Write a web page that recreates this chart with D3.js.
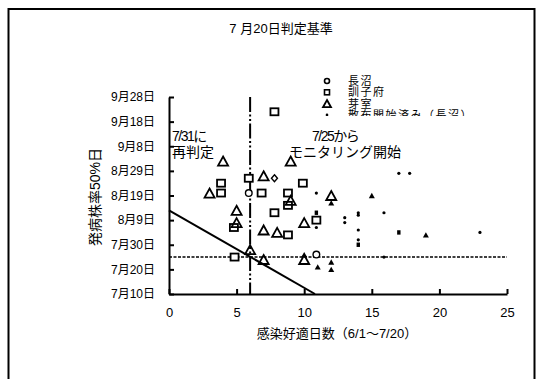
<!DOCTYPE html>
<html><head><meta charset="utf-8">
<script src="https://cdn.jsdelivr.net/npm/d3@7"></script>
<style>
html,body{margin:0;padding:0;background:#fff;}
svg{display:block;}
text{font-family:"Liberation Sans","Noto Sans CJK JP",sans-serif;fill:#000;}
</style></head>
<body>
<script>
// ---- data ----
const title = "7 月20日判定基準";
const xLabel = "感染好適日数（6/1～7/20）";
const yLabel = "発病株率50%日";
const xTicks = [0, 5, 10, 15, 20, 25];
const yTicks = ["7/10","7/20","7/30","8/9","8/19","8/29","9/8","9/18","9/28"];
const seriesNames = ["長沼","訓子府","芽室","散布開始済み（長沼）"];

const naganumaX = [5.9, 10.9];
const naganumaY = ["8/20","7/26"];
const naganumaDiamondX = [7.8];
const naganumaDiamondY = ["8/26"];
const kunneppuX = [7.8, 3.85, 3.85, 5.9, 6.85, 8.8, 9.9, 7.8, 8.8, 8.8, 4.85, 10.9, 4.8];
const kunneppuY = ["9/22","8/24","8/20","8/26","8/20","8/20","8/24","8/12","8/15","8/3","7/25","8/9","8/6"];
const memuroX = [4, 9, 7, 3, 12, 9, 5, 5, 10, 7, 8, 6, 7, 10];
const memuroY = ["9/2","9/2","8/27","8/20","8/19","8/17","8/13","8/8","8/8","8/5","8/4","7/28","7/24","7/24"];
const sprayNaganumaX = [10.9, 10.9, 13, 13, 14, 14, 14, 14, 15.9, 15.9, 17, 17.8, 23];
const sprayNaganumaY = ["8/20","8/6","8/10","8/8","8/12","8/11","8/5","8/1","8/12","7/25","8/28","8/28","8/4"];
const sprayKunneppuX = [17, 14, 10.9];
const sprayKunneppuY = ["8/4","7/30","8/12"];
const sprayMemuroX = [12, 15, 19, 12, 12, 11, 10];
const sprayMemuroY = ["8/16","8/19","8/3","7/23","7/20","7/21","7/26"];

const criterionX = 6;          // vertical dash-dot line
const monitorDate = "7/25";    // horizontal dashed line
const lineX = [0, 10.8];       // diagonal criterion line
const lineY = ["8/13","7/10"];
const notes = [["7/31に","再判定"],["7/25から","モニタリング開始"]];

// ---- drawing ----
const W = 537, H = 379;
const parse = d3.timeParse("%m/%d");
const svg = d3.select("body").append("svg").attr("width", W).attr("height", H);

svg.append("rect").attr("x",8.5).attr("y",9).attr("width",526).attr("height",420)
  .attr("fill","none").attr("stroke","#000").attr("stroke-width",2);

const x = d3.scaleLinear().domain([0,25]).range([169,507]);
const y = d3.scaleTime().domain([parse("7/10"), parse("9/28")]).range([294,97]);

svg.append("text").attr("x",281).attr("y",33).attr("text-anchor","middle")
  .attr("font-size",13).text(title);

// reference lines
svg.append("line").attr("x1",x(0)).attr("x2",x(25)).attr("y1",y(parse(monitorDate))).attr("y2",y(parse(monitorDate)))
  .attr("stroke","#000").attr("stroke-width",1.5).attr("stroke-dasharray","3,1.5");
svg.append("line").attr("x1",x(criterionX)).attr("x2",x(criterionX)).attr("y1",y.range()[1]).attr("y2",y.range()[0])
  .attr("stroke","#000").attr("stroke-width",2).attr("stroke-dasharray","15,2.5,2,2.5,2,2.5");
const lineData = lineX.map((v,i)=>[v, parse(lineY[i])]);
svg.append("path").attr("d", d3.line().x(d=>x(d[0])).y(d=>y(d[1]))(lineData))
  .attr("fill","none").attr("stroke","#000").attr("stroke-width",2);

// axes
const fmt = d => `${d.getMonth()+1}月${d.getDate()}日`;
const yAx = svg.append("g").attr("transform",`translate(${x(0)},0)`)
  .call(d3.axisLeft(y).tickValues(yTicks.map(parse)).tickFormat(fmt).tickSizeInner(-5).tickSizeOuter(0).tickPadding(14));
const xAx = svg.append("g").attr("transform",`translate(0,${y.range()[0]})`)
  .call(d3.axisBottom(x).tickValues(xTicks).tickFormat(d3.format("d")).tickSizeInner(-5).tickSizeOuter(0).tickPadding(14));
[yAx,xAx].forEach(g=>{
  g.select(".domain").attr("stroke","#000").attr("stroke-width",2);
  g.selectAll(".tick line").attr("stroke","#000").attr("stroke-width",2);
  g.selectAll("text").attr("font-size",12).attr("font-family",'"Liberation Sans","Noto Sans CJK JP",sans-serif').attr("fill","#000");
});
xAx.selectAll("text").attr("font-size",13);

svg.append("text").attr("x",337).attr("y",338).attr("text-anchor","middle").attr("font-size",13).text(xLabel);
svg.append("text").attr("transform","translate(100,197) rotate(-90)").attr("text-anchor","middle")
  .attr("font-size",14).text(yLabel);

// markers
const tri = s => { const h = s*0.9; return `M0,${-h/2}L${s/2},${h/2}L${-s/2},${h/2}Z`; };
function pts(xs, ys){ return xs.map((v,i)=>[x(v), y(parse(ys[i]))]); }
const g = svg.append("g");
// hollow
g.selectAll(".sq").data(pts(kunneppuX,kunneppuY)).join("rect")
  .attr("x",d=>d[0]-4).attr("y",d=>d[1]-3.5).attr("width",8).attr("height",7)
  .attr("fill","#fff").attr("stroke","#000").attr("stroke-width",1.8);
g.selectAll(".tr").data(pts(memuroX,memuroY)).join("path")
  .attr("transform",d=>`translate(${d[0]},${d[1]})`).attr("d",tri(10))
  .attr("fill","none").attr("stroke","#000").attr("stroke-width",1.8);
g.selectAll(".ci").data(pts(naganumaX,naganumaY)).join("circle")
  .attr("cx",d=>d[0]).attr("cy",d=>d[1]).attr("r",3.3)
  .attr("fill","#fff").attr("stroke","#000").attr("stroke-width",1.4);
g.selectAll(".di").data(pts(naganumaDiamondX,naganumaDiamondY)).join("path")
  .attr("transform",d=>`translate(${d[0]},${d[1]})`).attr("d","M0,-3.5L3,0L0,3.5L-3,0Z")
  .attr("fill","#fff").attr("stroke","#000").attr("stroke-width",1.4);
// filled small
g.selectAll(".sd").data(pts(sprayNaganumaX,sprayNaganumaY)).join("circle")
  .attr("cx",d=>d[0]).attr("cy",d=>d[1]).attr("r",1.6).attr("fill","#000");
g.selectAll(".ss").data(pts(sprayKunneppuX,sprayKunneppuY)).join("rect")
  .attr("x",d=>d[0]-1.7).attr("y",d=>d[1]-2.2).attr("width",3.4).attr("height",4.4).attr("fill","#000");
g.selectAll(".st").data(pts(sprayMemuroX,sprayMemuroY)).join("path")
  .attr("transform",d=>`translate(${d[0]},${d[1]})`).attr("d",tri(6)).attr("fill","#000");

// annotations
const n1 = svg.append("text").attr("font-size",14);
n1.append("tspan").attr("x",172).attr("y",141).attr("letter-spacing",-1.5).text(notes[0][0]);
n1.append("tspan").attr("x",172).attr("y",157).text(notes[0][1]);
const n2 = svg.append("text").attr("font-size",14);
n2.append("tspan").attr("x",312).attr("y",141).attr("letter-spacing",-1.5).text(notes[1][0]);
n2.append("tspan").attr("x",289).attr("y",157).text(notes[1][1]);

// legend (clipped at the bottom like the reference)
svg.append("clipPath").attr("id","lc").append("rect").attr("x",300).attr("y",70).attr("width",200).attr("height",46);
const lg = svg.append("g").attr("clip-path","url(#lc)");
seriesNames.forEach((name,i)=>{
  const cy = 81 + i*11.3;
  const row = lg.append("g").attr("transform",`translate(327,${cy})`);
  if(i===0) row.append("circle").attr("r",2.5).attr("fill","#fff").attr("stroke","#000").attr("stroke-width",1.6);
  if(i===1) row.append("rect").attr("x",-2.5).attr("y",-2.5).attr("width",5).attr("height",5).attr("fill","#fff").attr("stroke","#000").attr("stroke-width",1.6);
  if(i===2) row.append("path").attr("d",tri(8)).attr("fill","none").attr("stroke","#000").attr("stroke-width",1.8);
  if(i===3) row.append("circle").attr("r",1.3).attr("fill","#000");
  row.append("text").attr("x",21).attr("y",4).attr("font-size",11).attr("letter-spacing",1.5).text(name);
});
</script>
</body></html>
